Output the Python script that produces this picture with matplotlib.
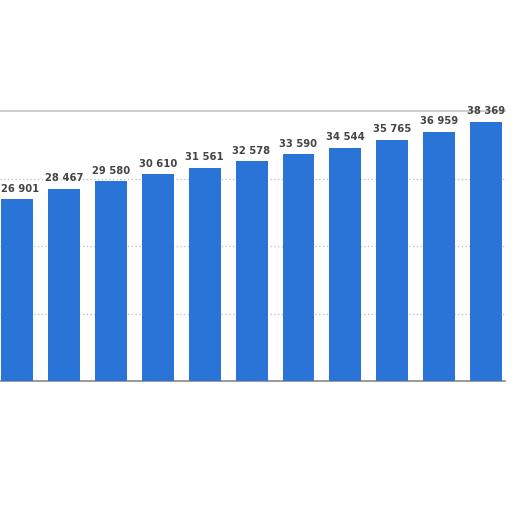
import matplotlib
matplotlib.use("Agg")
import matplotlib.pyplot as plt

categories = ["1", "2", "3", "4", "5", "6", "7", "8", "9", "10", "11"]
values = [26901, 28467, 29580, 30610, 31561, 32578, 33590, 34544, 35765, 36959, 38369]
labels = ["26 901", "28 467", "29 580", "30 610", "31 561", "32 578",
          "33 590", "34 544", "35 765", "36 959", "38 369"]

fig = plt.figure(figsize=(5.12, 5.12), dpi=100)
ax = fig.add_axes([0.0, 1 - 381 / 512, 505 / 512, (381 - 111) / 512])

x = list(range(len(categories)))
ax.bar(x, values, width=0.68, color="#2a74d8", zorder=3)
ax.set_xlim(-0.36, 10.4)
ax.set_ylim(0, 40000)
ax.set_yticks([10000, 20000, 30000])
ax.yaxis.grid(True, linestyle=(0, (1, 2)), color="#bbbbbb", linewidth=0.9, zorder=0)
ax.tick_params(left=False, bottom=False, labelleft=False, labelbottom=False)
for s in ["left", "right"]:
    ax.spines[s].set_visible(False)
ax.spines["top"].set_color("#c4c4c4")
ax.spines["top"].set_linewidth(1.2)
ax.spines["bottom"].set_color("#888888")
ax.spines["bottom"].set_linewidth(1.2)

for i, (xi, v, lab) in enumerate(zip(x, values, labels)):
    dx = 2 if i == 0 else 0
    ax.annotate(lab, (xi, v), xytext=(dx, 4), textcoords="offset points",
                ha="center", va="bottom", fontsize=7.2, fontweight="bold",
                color="#444444", zorder=4)

fig.savefig("out.png", dpi=100)
